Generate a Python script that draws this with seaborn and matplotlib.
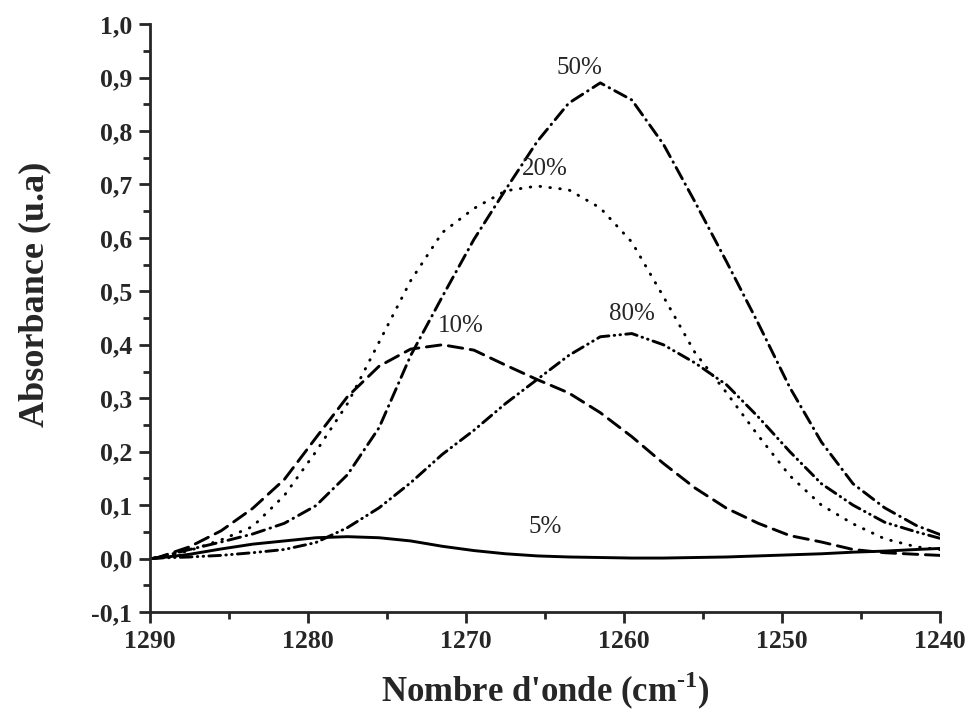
import numpy as np
import pandas as pd
import seaborn as sns
import matplotlib.pyplot as plt
from matplotlib.ticker import MultipleLocator, FuncFormatter

# wavenumber grid (cm-1)
wavenumber = [1290, 1289.5, 1287.5, 1285.5, 1283.5, 1281.5, 1279.5, 1277.5, 1275.5,
              1273.5, 1271.5, 1269.5, 1267.5, 1265.5, 1263.5, 1261.5, 1259.5, 1257.5,
              1255.5, 1253.5, 1251.5, 1249.5, 1247.5, 1245.5, 1243.5, 1241.5, 1240]

abs_5 = [0.0, 0.001, 0.008, 0.018, 0.027, 0.033, 0.039, 0.041, 0.039,
         0.033, 0.023, 0.015, 0.009, 0.005, 0.003, 0.002, 0.001, 0.001,
         0.002, 0.003, 0.005, 0.007, 0.009, 0.012, 0.014, 0.017, 0.019]
abs_10 = [0.0, 0.002, 0.022, 0.052, 0.094, 0.148, 0.226, 0.303, 0.36,
          0.392, 0.40, 0.39, 0.362, 0.335, 0.31, 0.273, 0.228, 0.178,
          0.132, 0.094, 0.066, 0.043, 0.031, 0.017, 0.011, 0.008, 0.006]
abs_20 = [0.0, 0.002, 0.015, 0.035, 0.06, 0.118, 0.2, 0.29, 0.405,
          0.52, 0.61, 0.655, 0.688, 0.697, 0.69, 0.656, 0.592, 0.49,
          0.385, 0.31, 0.23, 0.155, 0.1, 0.065, 0.037, 0.022, 0.017]
abs_50 = [0.0, 0.002, 0.017, 0.031, 0.046, 0.066, 0.099, 0.157, 0.245,
          0.38, 0.49, 0.597, 0.69, 0.78, 0.852, 0.89, 0.858, 0.775,
          0.667, 0.555, 0.44, 0.32, 0.218, 0.14, 0.095, 0.062, 0.045]
abs_80 = [0.0, 0.001, 0.003, 0.006, 0.011, 0.017, 0.03, 0.058, 0.095,
          0.142, 0.195, 0.24, 0.29, 0.335, 0.38, 0.415, 0.421, 0.40,
          0.366, 0.325, 0.265, 0.2, 0.14, 0.1, 0.068, 0.05, 0.038]

series_names = ['5%', '10%', '20%', '50%', '80%']
series_values = [abs_5, abs_10, abs_20, abs_50, abs_80]

# label anchor points (wavenumber, absorbance)
label_x = [1265.0, 1270.3, 1265.0, 1262.8, 1259.5]
label_y = [0.06, 0.436, 0.729, 0.918, 0.458]

frames = []
for name, vals in zip(series_names, series_values):
    frames.append(pd.DataFrame({'wn': wavenumber, 'abs': vals, 'serie': name}))
df = pd.concat(frames, ignore_index=True)

sns.set_style('ticks')
plt.rcParams['font.family'] = ['Liberation Serif', 'DejaVu Serif']
plt.rcParams['mathtext.fontset'] = 'custom'
plt.rcParams['mathtext.rm'] = 'Liberation Serif:bold'
plt.rcParams['mathtext.bf'] = 'Liberation Serif:bold'

dash_styles = {
    '5%': '',
    '10%': (5.0, 2.6),
    '20%': (0.2, 3.2),
    '50%': (4.4, 2.0, 0.2, 2.0),
    '80%': (4.0, 1.8, 0.2, 1.8, 0.2, 1.8),
}

fig = plt.figure(figsize=(9.68, 7.17), dpi=100)
ax = fig.add_axes([0.155, 0.1464, 0.816, 0.82])

sns.lineplot(data=df, x='wn', y='abs', style='serie', dashes=dash_styles,
             color='black', linewidth=2.1, estimator=None, legend=False, ax=ax,
             dash_capstyle='round')

for name, lx, ly in zip(series_names, label_x, label_y):
    ax.text(lx, ly, name, ha='center', va='center', fontsize=18)

ax.set_xlim(1290, 1240)
ax.set_ylim(-0.1, 1.0)
ax.xaxis.set_major_locator(MultipleLocator(10))
ax.xaxis.set_minor_locator(MultipleLocator(5))
ax.yaxis.set_major_locator(MultipleLocator(0.1))
ax.yaxis.set_minor_locator(MultipleLocator(0.05))
ax.yaxis.set_major_formatter(FuncFormatter(lambda v, p: ('%.1f' % v).replace('.', ',').replace('-0,0', '0,0')))
ax.xaxis.set_major_formatter(FuncFormatter(lambda v, p: '%d' % round(v)))

sns.despine(ax=ax)
for s in ['left', 'bottom']:
    ax.spines[s].set_linewidth(2)
ax.tick_params(which='major', direction='out', length=8, width=2, labelsize=18.5, pad=5)
ax.tick_params(which='minor', direction='out', length=5, width=2)
for lab in ax.get_xticklabels() + ax.get_yticklabels():
    lab.set_fontweight('bold')

ax.set_xlabel("Nombre d'onde (cm$^{\\text{-1}}$)", fontsize=25, fontweight='bold', labelpad=12)
ax.set_ylabel('Absorbance (u.a)', fontsize=26, fontweight='bold')
ax.yaxis.set_label_coords(-0.125, 0.54)

fig.savefig('out.png', dpi=100)
